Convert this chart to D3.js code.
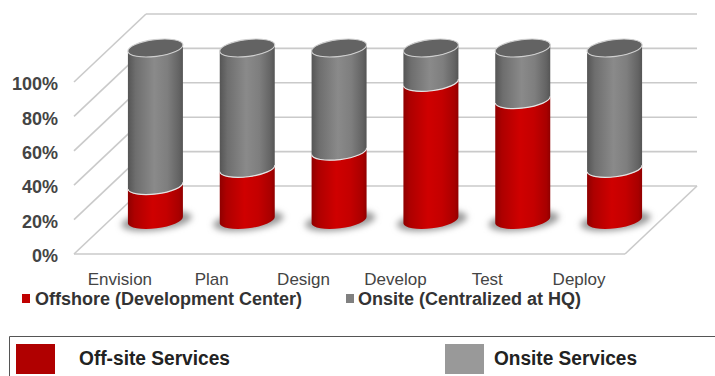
<!DOCTYPE html>
<html>
<head>
<meta charset="utf-8">
<style>
  html, body { margin: 0; padding: 0; background: #fff; }
  svg { display: block; }
  text { font-family: "Liberation Sans", Arial, sans-serif; }
</style>
<script src="https://cdn.jsdelivr.net/npm/d3@7/dist/d3.min.js"></script>
</head>
<body>
<svg id="chart" width="715" height="376"></svg>
<script>
// Delivery phases and the percentage of work done in each location
const phases = ["Envision", "Plan", "Design", "Develop", "Test", "Deploy"];
const offshore = [20, 30, 40, 80, 70, 30];
const onsite = [80, 70, 60, 20, 30, 70];
const percentTicks = [0, 20, 40, 60, 80, 100];
const chartLegend = ["Offshore (Development Center)", "Onsite (Centralized at HQ)"];
const serviceLegend = ["Off-site Services", "Onsite Services"];

const svg = d3.select("#chart");

// Oblique projection: front plane, back wall, and the cylinder plane halfway between
const depthX = 72, depthY = 68;
const yFront = d3.scaleLinear().domain([0, 100]).range([254, 82]);
const yBack = v => yFront(v) - depthY;
const yMid = v => yFront(v) - 34;
const xFront = d3.scaleBand().domain(phases).range([74, 625]);
const cx = p => xFront(p) + xFront.bandwidth() / 2;
const cxMid = p => cx(p) + 35.5;

const radiusX = 27.5, radiusY = 8.4, tiltDeg = -7;
const tilt = tiltDeg * Math.PI / 180;
const edgeDy = radiusX * Math.tan(-tilt);

const defs = svg.append("defs");
function sideGradient(id, stops) {
  const g = defs.append("linearGradient").attr("id", id);
  stops.forEach(([o, c]) => g.append("stop").attr("offset", o).attr("stop-color", c));
}
sideGradient("redSide", [[0, "#8f0000"], [0.12, "#ad0000"], [0.45, "#cf0000"], [0.7, "#c40000"], [0.93, "#a80000"], [1, "#900000"]]);
sideGradient("greySide", [[0, "#555"], [0.14, "#6e6e6e"], [0.48, "#8a8a8a"], [0.72, "#7e7e7e"], [0.93, "#636363"], [1, "#555"]]);
defs.append("filter").attr("id", "soft")
  .attr("x", "-30%").attr("y", "-60%").attr("width", "160%").attr("height", "220%")
  .append("feGaussianBlur").attr("stdDeviation", 3);

// Back wall, side wall and floor
const grid = svg.append("g").attr("fill", "none").attr("stroke", "#cacaca").attr("stroke-width", 1.6);
grid.selectAll(".back").data(percentTicks).join("line")
  .attr("x1", 146).attr("x2", 697)
  .attr("y1", d => yBack(d)).attr("y2", d => yBack(d));
grid.selectAll(".side").data(percentTicks).join("line")
  .attr("x1", 74).attr("x2", 74 + depthX)
  .attr("y1", d => yFront(d)).attr("y2", d => yBack(d));
grid.append("line").attr("x1", 74).attr("x2", 625).attr("y1", yFront(0)).attr("y2", yFront(0));
grid.append("line").attr("x1", 625).attr("x2", 625 + depthX).attr("y1", yFront(0)).attr("y2", yBack(0));

// Percentage axis, tick marks hidden
const axis = svg.append("g").attr("transform", "translate(58,2)")
  .call(d3.axisLeft(yFront).tickValues(percentTicks).tickFormat(d => d + "%").tickSize(0).tickPadding(0));
axis.select(".domain").remove();
axis.selectAll("text").attr("font-size", 18).attr("font-weight", 700).attr("fill", "#444")
  .style("font-family", '"Liberation Sans", Arial, sans-serif');

// Contact shadows under each cylinder
svg.append("g").selectAll("ellipse").data(phases).join("ellipse")
  .attr("cx", p => cxMid(p) + 1).attr("cy", yMid(0) + 1)
  .attr("rx", radiusX + 8).attr("ry", radiusY + 1)
  .attr("transform", p => `rotate(${tiltDeg} ${cxMid(p)} ${yMid(0)})`)
  .attr("fill", "#9a9a9a").attr("filter", "url(#soft)");

// Wall of a cylinder between two percentages: straight sides, curved lower and upper rims
function wall(c, lo, hi) {
  const l = c - radiusX, r = c + radiusX;
  return `M${l},${yMid(hi) + edgeDy}
    L${l},${yMid(lo) + edgeDy}
    A${radiusX / Math.cos(tilt)},${radiusY} ${tiltDeg} 0 0 ${r},${yMid(lo) - edgeDy}
    L${r},${yMid(hi) - edgeDy}
    A${radiusX / Math.cos(tilt)},${radiusY} ${tiltDeg} 0 1 ${l},${yMid(hi) + edgeDy}Z`;
}
function rim(c, v) {
  const l = c - radiusX, r = c + radiusX;
  return `M${l},${yMid(v) + edgeDy}A${radiusX / Math.cos(tilt)},${radiusY} ${tiltDeg} 0 0 ${r},${yMid(v) - edgeDy}`;
}

const bars = svg.append("g").selectAll("g").data(phases).join("g");
bars.append("path").attr("d", (p, i) => wall(cxMid(p), 0, offshore[i])).attr("fill", "url(#redSide)");
bars.append("path").attr("d", (p, i) => wall(cxMid(p), offshore[i], offshore[i] + onsite[i])).attr("fill", "url(#greySide)");
bars.append("path").attr("d", (p, i) => rim(cxMid(p), offshore[i]))
  .attr("fill", "none").attr("stroke", "#e4e4e4").attr("stroke-width", 1.2);
bars.append("ellipse")
  .attr("cx", p => cxMid(p)).attr("cy", (p, i) => yMid(offshore[i] + onsite[i]))
  .attr("rx", radiusX / Math.cos(tilt)).attr("ry", radiusY)
  .attr("transform", (p, i) => `rotate(${tiltDeg} ${cxMid(p)} ${yMid(offshore[i] + onsite[i])})`)
  .attr("fill", "#636363").attr("stroke", "#cfcfcf").attr("stroke-width", 1.1);

// Phase names along the front edge
svg.append("g").selectAll("text").data(phases).join("text")
  .attr("x", p => cx(p)).attr("y", 285).attr("text-anchor", "middle")
  .attr("font-size", 17).attr("fill", "#444").text(p => p);

// Legend belonging to the chart
const chartKeys = svg.append("g").selectAll("g").data(chartLegend).join("g")
  .attr("transform", (d, i) => `translate(${[22, 346][i]},0)`);
chartKeys.append("rect").attr("y", 294).attr("width", 8).attr("height", 9)
  .attr("fill", (d, i) => ["#c00000", "#808080"][i]);
chartKeys.append("text").attr("x", (d, i) => [13, 12][i]).attr("y", 305)
  .attr("font-size", 18).attr("font-weight", 700).attr("fill", "#333").text(d => d);

// Framed key below the chart
svg.append("path").attr("d", "M9.5,376V336.5H715").attr("fill", "none").attr("stroke", "#555").attr("stroke-width", 1);
const serviceKeys = svg.append("g").selectAll("g").data(serviceLegend).join("g");
serviceKeys.append("rect")
  .attr("x", (d, i) => [16, 445][i]).attr("y", 344).attr("width", 39).attr("height", 30)
  .attr("fill", (d, i) => ["#b00000", "#999999"][i]);
serviceKeys.append("text")
  .attr("x", (d, i) => [79, 494][i]).attr("y", 365)
  .attr("font-size", 20).attr("font-weight", 700).attr("fill", "#222")
  .attr("textLength", (d, i) => [151, 143][i]).attr("lengthAdjust", "spacingAndGlyphs").text(d => d);
</script>
</body>
</html>
